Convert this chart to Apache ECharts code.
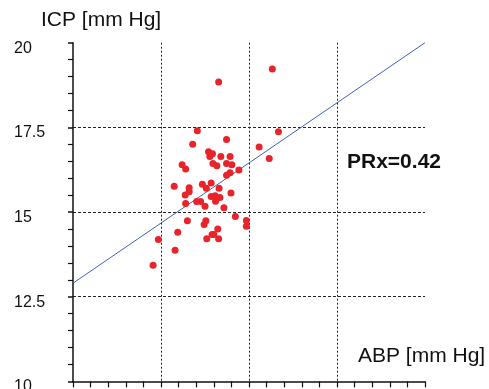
<!DOCTYPE html>
<html>
<head>
<meta charset="utf-8">
<script src="https://cdn.jsdelivr.net/npm/echarts@6/dist/echarts.min.js"></script>
<style>
  html, body { margin: 0; padding: 0; background: #fff; }
  #chart { width: 489px; height: 389px; }
</style>
</head>
<body>
<div id="chart"></div>
<script>
// ABP / ICP paired samples (mm Hg)
const abp = [73.1, 85.3, 68.25, 86.7, 67.2, 74.9, 82.3, 84.6, 70.8, 71.7,
             71.1, 73.6, 75.7, 64.8, 65.6, 71.8, 72.7, 74.9, 76.1, 75.7,
             74.9, 77.7, 63.0, 66.4, 66.4, 65.5, 69.4, 71.4, 70.3, 73.2,
             75.9, 71.4, 72.3, 73.4, 72.4, 68.1, 69.0, 65.6, 70.0, 74.3,
             76.9, 79.4, 79.4, 66.0, 70.2, 69.8, 72.9, 63.8, 71.6, 72.0,
             70.4, 73.1, 59.4, 63.2, 58.2];
const icp = [18.84, 19.22, 17.40, 17.37, 17.00, 17.14, 16.92, 16.58, 16.78, 16.72,
             16.64, 16.64, 16.64, 16.40, 16.27, 16.43, 16.37, 16.43, 16.40, 16.16,
             16.09, 16.24, 15.76, 15.72, 15.60, 15.50, 15.82, 15.86, 15.70, 15.70,
             15.56, 15.46, 15.48, 15.43, 15.32, 15.31, 15.31, 15.25, 15.17, 15.13,
             14.87, 14.75, 14.58, 14.74, 14.74, 14.63, 14.50, 14.40, 14.34, 14.34,
             14.21, 14.21, 14.19, 13.87, 13.43];

// Regression line end points
const fitX = [40, 120];
const fitY = [12.9, 20.0];

// Y axis tick values
const icpTicks = [10, 12.5, 15, 17.5, 20];

const prxText = 'PRx=0.42';

const points = abp.map((x, i) => [x, icp[i]]);
const fitLine = fitX.map((x, i) => [x, fitY[i]]);

const chart = echarts.init(document.getElementById('chart'), null, { renderer: 'canvas' });

const gridLine = (dash) => ({
  show: true,
  showMinLine: false,
  showMaxLine: false,
  lineStyle: { color: '#222', width: 1, type: dash }
});

chart.setOption({
  animation: false,
  backgroundColor: '#ffffff',
  grid: { left: 73, right: 64, top: 42.7, bottom: 7.6, containLabel: false, outerBoundsMode: 'none' },
  xAxis: {
    type: 'value',
    min: 40,
    max: 120,
    interval: 20,
    axisLine: { show: true, onZero: false, lineStyle: { color: '#111', width: 1.5 } },
    axisTick: { show: true, inside: false, length: 6, lineStyle: { color: '#111', width: 1.2 } },
    minorTick: { show: true, splitNumber: 5, length: 6, lineStyle: { color: '#111', width: 1.2 } },
    axisLabel: { show: false },
    splitLine: gridLine([2, 2])
  },
  yAxis: {
    type: 'value',
    min: icpTicks[0],
    max: icpTicks[icpTicks.length - 1],
    interval: 2.5,
    axisLine: { show: true, onZero: false, lineStyle: { color: '#111', width: 1.5 } },
    axisTick: { show: true, inside: false, length: 5, lineStyle: { color: '#111', width: 1.5 } },
    minorTick: { show: true, splitNumber: 5, length: 5, lineStyle: { color: '#111', width: 1.2 } },
    axisLabel: {
      show: true,
      align: 'left',
      verticalAlign: 'top',
      lineHeight: 11,
      margin: 59,
      color: '#111',
      fontFamily: 'Liberation Sans, Arial, sans-serif',
      fontSize: 16,
      formatter: (v) => String(v)
    },
    splitLine: gridLine([3, 2])
  },
  graphic: [
    {
      type: 'text', left: 41, top: 10,
      style: { text: 'ICP [mm Hg]', fill: '#111', font: '21px "Liberation Sans", Arial, sans-serif' }
    },
    {
      type: 'text', left: 358, top: 346,
      style: { text: 'ABP [mm Hg]', fill: '#111', font: '21px "Liberation Sans", Arial, sans-serif' }
    },
    {
      type: 'text', left: 347, top: 152,
      style: { text: prxText, fill: '#111', font: 'bold 21px "Liberation Sans", Arial, sans-serif' }
    }
  ],
  series: [
    {
      type: 'line',
      data: fitLine,
      showSymbol: false,
      symbol: 'none',
      lineStyle: { color: '#4060bb', width: 1 },
      z: 2
    },
    {
      type: 'scatter',
      data: points,
      symbol: 'circle',
      symbolSize: 7,
      itemStyle: { color: '#e8242a', opacity: 1 },
      z: 3
    }
  ]
});
</script>
</body>
</html>
